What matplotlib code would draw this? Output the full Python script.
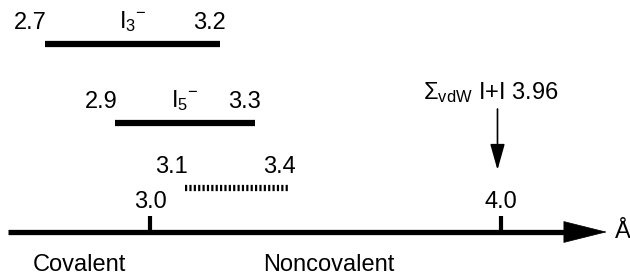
import matplotlib.pyplot as plt

plt.rcParams['font.family'] = ['Liberation Sans', 'DejaVu Sans']
plt.rcParams['mathtext.fontset'] = 'custom'
plt.rcParams['mathtext.rm'] = 'Liberation Sans'
plt.rcParams['mathtext.it'] = 'Liberation Sans'

# distance ranges (Angstrom)
range_names = [r'$\mathregular{{I_3}^{-}}$', r'$\mathregular{{I_5}^{-}}$', '']
range_lo = [2.7, 2.9, 3.1]
range_hi = [3.2, 3.3, 3.4]
range_dashed = [False, False, True]

axis_ticks = [3.0, 4.0]
vdw_sum = 3.96
regions = ['Covalent', 'Noncovalent']
region_x = [2.80, 3.51]

# vertical placement of each row, in pixels from the top
row_y = [44, 123, 188]

fig = plt.figure(figsize=(6.3, 2.75), dpi=100)
ax = fig.add_axes([0, 0, 1, 1])
ax.set_xlim(3 - 150 / 351, 3 + 480 / 351)
ax.set_ylim(275, 0)
ax.axis('off')

fs = 17
for name, lo, hi, dash, y in zip(range_names, range_lo, range_hi, range_dashed, row_y):
    if dash:
        ax.plot([lo, hi], [y, y], color='black', lw=4.5,
                linestyle=(0, (0.35, 0.35)), solid_capstyle='butt', dash_capstyle='butt')
    else:
        ax.plot([lo, hi], [y, y], color='black', lw=4.5, solid_capstyle='butt')
    ax.text(lo - 0.04, y - 21, f'{lo:.1f}', fontsize=fs, ha='center', va='center')
    ax.text(hi - 0.03, y - 21, f'{hi:.1f}', fontsize=fs, ha='center', va='center')
    if name:
        ax.text((lo + hi) / 2, y - 22, name, fontsize=fs, ha='center', va='center')

# main axis
x0 = 3 - 142 / 351
x1 = 3 + 457 / 351
ax.plot([x0, x1 - 0.08], [232, 232], color='black', lw=3.8, solid_capstyle='butt')
ax.annotate('', xy=(x1, 232), xytext=(x1 - 0.12, 232),
            arrowprops=dict(arrowstyle='-|>,head_length=3.0,head_width=0.75',
                            mutation_scale=10, color='black', lw=0.5,
                            shrinkA=0, shrinkB=0))
ax.text(x1 + 0.045, 232, 'Å', fontsize=fs, ha='center', va='center')

for t in axis_ticks:
    ax.plot([t, t], [216, 232], color='black', lw=3, solid_capstyle='butt')
    ax.text(t, 202, f'{t:.1f}', fontsize=fs, ha='center', va='center')

for name, x in zip(regions, region_x):
    ax.text(x, 265, name, fontsize=fs, ha='center', va='center')

# van der Waals sum marker
ax.text(vdw_sum + 0.01, 93, r'$\mathregular{\Sigma_{vdW}}$ I+I ' + f'{vdw_sum:.2f}',
        fontsize=fs, ha='center', va='center')
ax.annotate('', xy=(vdw_sum + 0.03, 170), xytext=(vdw_sum + 0.03, 109),
            arrowprops=dict(arrowstyle='-|>,head_length=1.6,head_width=0.45',
                            mutation_scale=10, color='black', lw=1.2,
                            shrinkA=0, shrinkB=0))

fig.savefig('out.png', dpi=100)
